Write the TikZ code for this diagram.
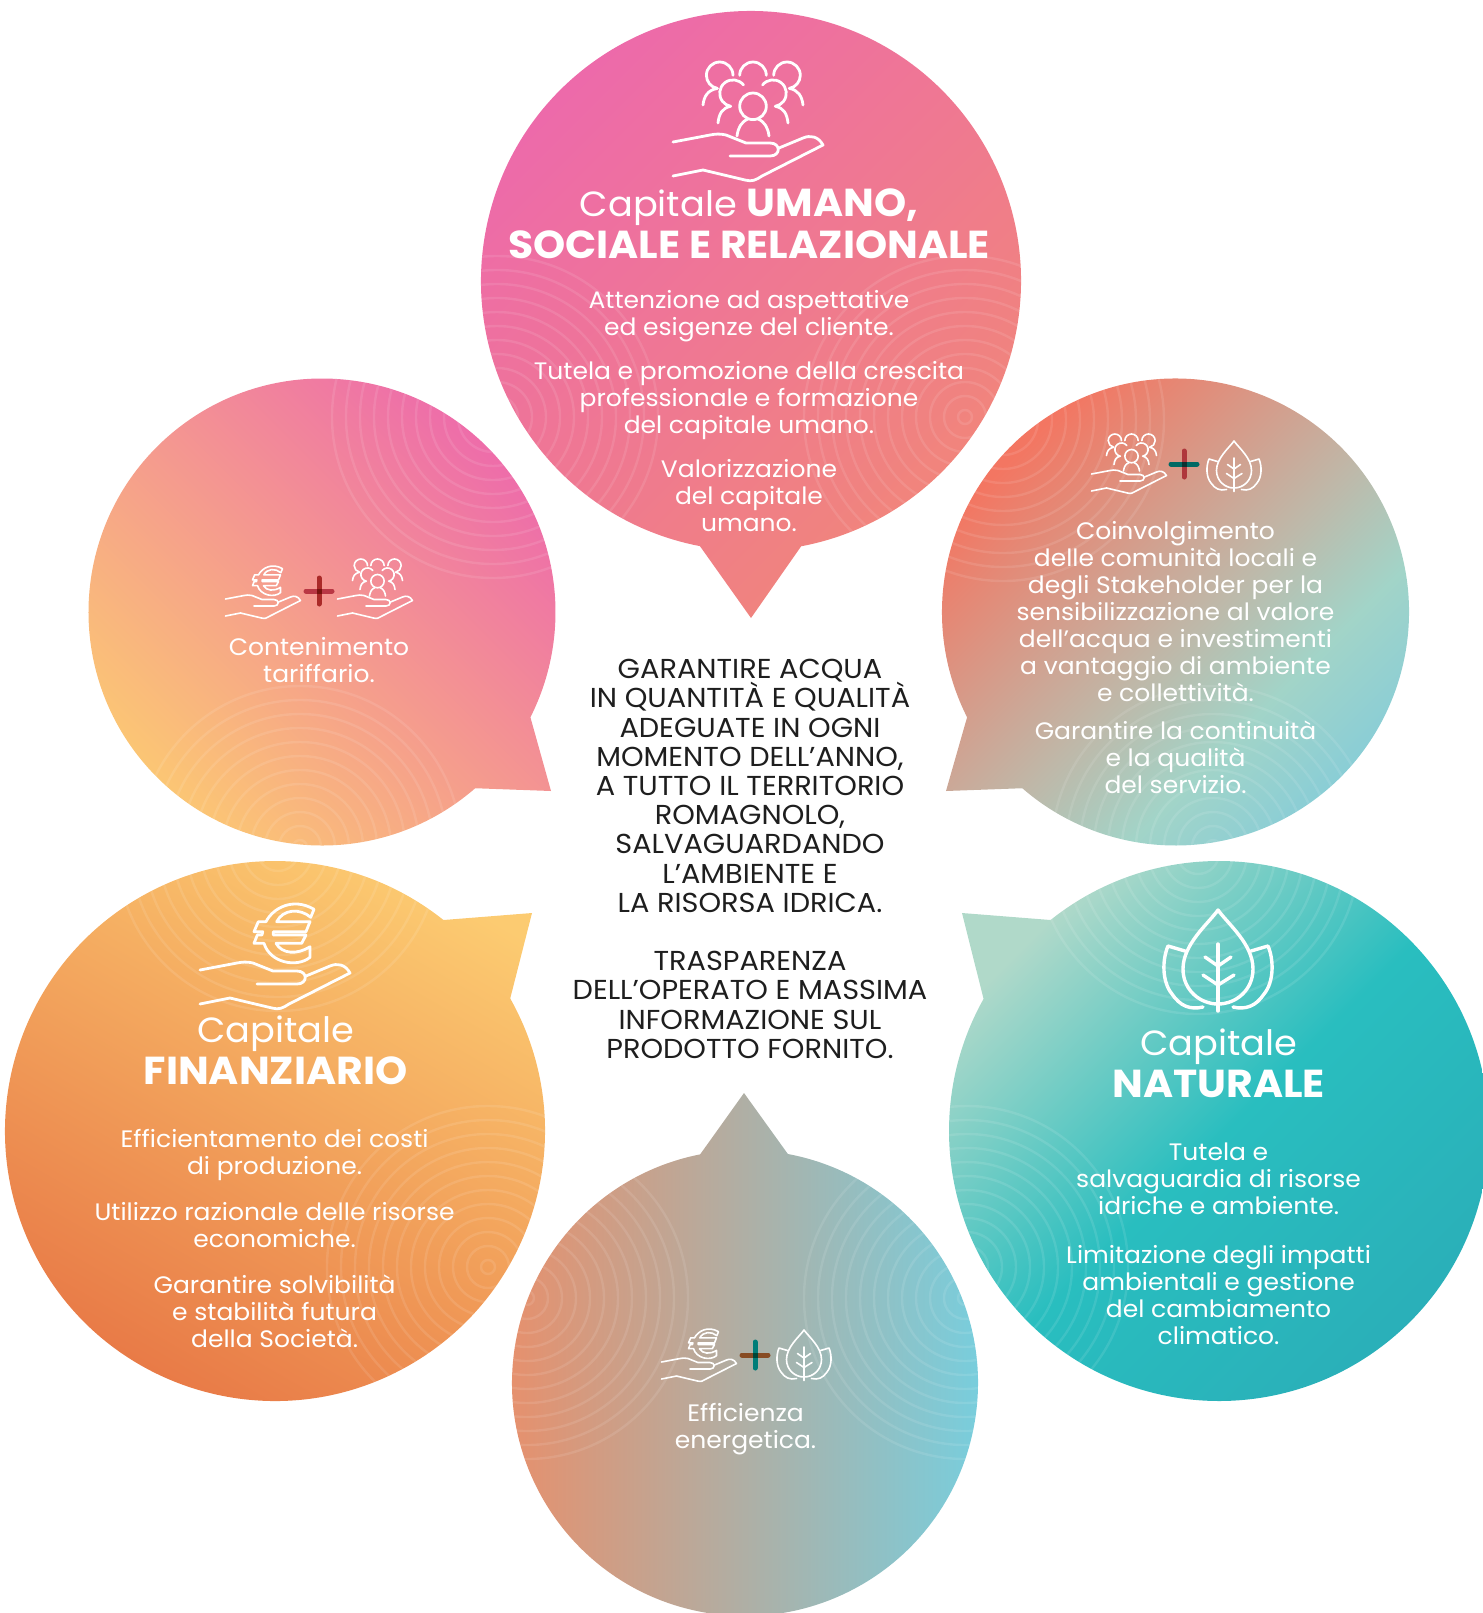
\documentclass[tikz,border=0pt]{standalone}
\usepackage{fontspec}
\setmainfont[FakeStretch=1.05]{Poppins}
\usepackage{xcolor}
\usetikzlibrary{positioning}

\definecolor{rosa}{RGB}{237,105,172}
\definecolor{salmone}{RGB}{241,135,120}
\definecolor{giallo}{RGB}{252,203,113}
\definecolor{arancio}{RGB}{231,117,68}
\definecolor{corallo}{RGB}{234,142,105}
\definecolor{grigio}{RGB}{187,176,160}
\definecolor{azzurro}{RGB}{116,208,225}
\definecolor{testoscuro}{RGB}{30,30,30}

\pgfdeclarehorizontalshading{sociale}{100bp}{rgb(0bp)=(.953,.463,.384); rgb(29bp)=(.953,.463,.384); rgb(53bp)=(.745,.725,.665); rgb(63bp)=(.635,.831,.784); rgb(75bp)=(.52,.80,.85); rgb(100bp)=(.52,.80,.85)}
\pgfdeclarehorizontalshading{naturale}{100bp}{rgb(0bp)=(.69,.85,.79); rgb(27bp)=(.69,.85,.79); rgb(50bp)=(.16,.745,.75); rgb(75bp)=(.165,.68,.72); rgb(100bp)=(.165,.68,.72)}

% fumetto: centro, raggio, angoli dell'arco, punta
\newcommand{\fumetto}[6]{(#1,#2) ++(#4:#3) arc[start angle=#4,end angle=#5,radius=#3] -- (#6) -- cycle}
% cerchi concentrici chiari
\newcommand{\anelli}[2]{\foreach \r in {7,21,...,161} {\draw[white,opacity=.1,line width=1.2pt] (#1,#2) circle (\r);}}
% parole in grassetto dei titoli
\newcommand{\forte}[1]{{\fontsize{19.5}{21}\selectfont\textbf{#1}}}

\tikzset{
  icona/.style={draw=white,line cap=round,line join=round},
  iconagrande/.style={yscale=-1,line width=1.4pt},
  iconapiccola/.style={scale=.5,yscale=-1,line width=.8pt},
  corpo/.style={text=white,align=center,font=\fontsize{11.9}{13.5}\selectfont},
  titolo/.style={text=white,align=center,font=\fontsize{17.5}{21}\selectfont},
  centrale/.style={text=testoscuro,align=center,font=\fontsize{13.7}{14.6}\selectfont},
  pics/mano/.style={code={
    \draw[icona] (-75,-16) -- (-38,-23) .. controls (-33,-24) and (-28,-24.5) .. (-22,-23) -- (-2,-15) -- (22,-15)
      .. controls (33,-15) and (33,-2) .. (22,-2) -- (-18,-2);
    \draw[icona] (31,-10) -- (55,-20) .. controls (62,-23) and (70,-22) .. (75,-13) -- (14,18)
      .. controls (8,22) and (4,24) .. (-3,22) -- (-45,12) -- (-75,18);
  }},
  pics/persone/.style={code={
    \draw[icona] (-15,-82.7) arc[start angle=0,end angle=-260,radius=13.3] .. controls (-40,-68) and (-44,-62) .. (-45,-53);
    \draw[icona] (-8.3,-82.7) arc[start angle=180,end angle=360,radius=13.3];
    \draw[icona] (25.7,-82.7) arc[start angle=180,end angle=440,radius=13.3] .. controls (50,-68) and (54,-62) .. (55,-53);
    \draw[icona] (-4.5,-73) arc[start angle=-38,end angle=-260,radius=13.3] .. controls (-26,-50) and (-29,-44) .. (-30,-35);
    \draw[icona] (14.5,-73) arc[start angle=218,end angle=440,radius=13.3] .. controls (36,-50) and (39,-44) .. (40,-35);
    \draw[icona] (5,-51.7) circle (13.3);
    \draw[icona] (0,-39) .. controls (-7,-36) and (-10,-30) .. (-11,-22);
    \draw[icona] (10,-39) .. controls (17,-36) and (20,-30) .. (21,-22);
  }},
  pics/euro/.style={code={
    \draw[icona] (39,-76.7) .. controls (18,-89) and (-2,-78) .. (-9,-64.3) -- (-16.7,-64.3) -- (-21,-54.3)
      -- (-12.3,-54.3) -- (-13,-51) -- (-17.7,-51) -- (-21,-42.7) -- (-11,-42.7)
      .. controls (-5,-23) and (22,-18) .. (35,-28.7) -- (35,-39.3)
      .. controls (22,-31) and (7,-32) .. (1,-42.7) -- (26.7,-42.7) -- (31,-51) -- (-1.7,-51) -- (-1.7,-54.3)
      -- (31,-54.3) -- (35,-64.3) -- (1.7,-64.3)
      .. controls (8,-77) and (25,-78) .. (35.7,-68.7) -- cycle;
  }},
  pics/foglia/.style={code={
    \draw[icona] (0,-52) .. controls (10,-38) and (35,-18) .. (35,7) .. controls (35,28) and (18,42) .. (0,42)
      .. controls (-18,42) and (-35,28) .. (-35,7) .. controls (-35,-18) and (-10,-38) .. cycle;
    \draw[icona] (0,-18) -- (0,49);
    \draw[icona] (-13,-5) -- (0,4) -- (13,-5);
    \draw[icona] (-15,13) -- (0,23) -- (16,13);
    \draw[icona] (-33,-11) -- (-50,-16) .. controls (-56,-2) and (-56,20) .. (-46,32) .. controls (-38,44) and (-28,48) .. (-15,45);
    \draw[icona] (33,-11) -- (50,-16) .. controls (56,-2) and (56,20) .. (46,32) .. controls (38,44) and (28,48) .. (15,45);
  }},
  pics/piu/.style n args={3}{code={
    \draw[line width=2.5pt,line cap=round,#1] (-13,0) -- (13,0);
    \draw[line width=2.5pt,line cap=round,#2] (0,-13) -- (0,13);
    \fill[#3] (-2.5,-2.5) rectangle (2.5,2.5);
  }}
}

\begin{document}
\begin{tikzpicture}[x=.5pt,y=.5pt,yscale=-1]
    \useasboundingbox (0,0) rectangle (1483,1613);
    \coordinate (puntaumano) at (751,618);
    \coordinate (puntatariffa) at (551,791);
    \coordinate (puntasociale) at (946,791);
    \coordinate (puntafinanza) at (532,913);
    \coordinate (puntanatura) at (962,913);
    \coordinate (puntaenergia) at (744,1093);

    % Capitale umano
    \shade[left color=rosa,right color=salmone,shading angle=45] \fumetto{751}{281}{270}{100.9}{439.3}{puntaumano};
    \begin{scope}
        \clip \fumetto{751}{281}{270}{100.9}{439.3}{puntaumano};
        \anelli{497}{417}
        \anelli{965}{417}
    \end{scope}
    % Contenimento tariffario
    \shade[left color=giallo,middle color=salmone!70!rosa,right color=rosa,shading angle=135] \fumetto{322}{612}{233.5}{49}{386.8}{puntatariffa};
    \begin{scope}
        \clip \fumetto{322}{612}{233.5}{49}{386.8}{puntatariffa};
        \anelli{493}{417}
        \anelli{300}{847}
    \end{scope}
    % Coinvolgimento
    \shade[shading=sociale,shading angle=-45] \fumetto{1175.5}{612}{233.5}{153.2}{491}{puntasociale};
    \begin{scope}
        \clip \fumetto{1175.5}{612}{233.5}{153.2}{491}{puntasociale};
        \anelli{1003}{420}
        \anelli{1213}{847}
    \end{scope}
    % Capitale finanziario
    \shade[left color=arancio,right color=giallo,shading angle=150] \fumetto{275}{1131}{270}{-29.4}{308.6}{puntafinanza};
    \begin{scope}
        \clip \fumetto{275}{1131}{270}{-29.4}{308.6}{puntafinanza};
        \anelli{278}{850}
        \anelli{488}{1267}
    \end{scope}
    % Capitale naturale
    \shade[shading=naturale,shading angle=-45] \fumetto{1219}{1131}{270}{231.4}{569.3}{puntanatura};
    \begin{scope}
        \clip \fumetto{1219}{1131}{270}{231.4}{569.3}{puntanatura};
        \anelli{1198}{853}
        \anelli{967}{1267}
    \end{scope}
    % Efficienza energetica
    \shade[left color=corallo,middle color=grigio,right color=azzurro] \fumetto{745}{1383}{233}{280.6}{618.9}{puntaenergia};
    \begin{scope}
        \clip \fumetto{745}{1383}{233}{280.6}{618.9}{puntaenergia};
        \anelli{527}{1298}
        \anelli{965}{1298}
    \end{scope}

    % Icone
    \pic[iconagrande] at (748,158) {mano};
    \pic[iconagrande] at (748,158) {persone};
    \pic[iconagrande] at (275,986) {mano};
    \pic[iconagrande] at (275,986) {euro};
    \pic[iconagrande,line width=1.7pt] at (1218,962) {foglia};
    \pic[iconapiccola] at (263,607) {mano};
    \pic[iconapiccola] at (263,607) {euro};
    \pic[iconapiccola] at (375,607) {mano};
    \pic[iconapiccola] at (375,607) {persone};
    \pic at (319,591) {piu={draw={rgb,255:red,185;green,55;blue,68}}{draw={rgb,255:red,170;green,42;blue,40}}{fill={rgb,255:red,120;green,20;blue,15}}};
    \pic[iconapiccola] at (1129,482) {mano};
    \pic[iconapiccola] at (1129,482) {persone};
    \pic[iconapiccola] at (1234,467) {foglia};
    \pic at (1184,464) {piu={draw={rgb,255:red,0;green,105;blue,100}}{draw={rgb,255:red,175;green,55;blue,60}}{fill={rgb,255:red,10;green,50;blue,50}}};
    \pic[iconapiccola] at (699,1370) {mano};
    \pic[iconapiccola] at (699,1370) {euro};
    \pic[iconapiccola] at (804,1356) {foglia};
    \pic at (755,1355) {piu={draw={rgb,255:red,135;green,75;blue,35}}{draw={rgb,255:red,0;green,125;blue,120}}{fill={rgb,255:red,0;green,70;blue,55}}};

    % Testi
    \node[titolo] (titoloumano) at (749,224) {Capitale \forte{UMANO,}\\\forte{SOCIALE E RELAZIONALE}};
    \node[corpo] (testoumano) at (749,411) {Attenzione ad aspettative\\ed esigenze del cliente.\\[8.5pt]Tutela e promozione della crescita\\professionale e formazione\\del capitale umano.\\[8.5pt]Valorizzazione\\del capitale\\umano.};
    \node[corpo] (testotariffa) at (319,660) {Contenimento\\tariffario.};
    \node[corpo] (testosociale) at (1175.5,657.5) {Coinvolgimento\\delle comunità locali e\\degli Stakeholder per la\\sensibilizzazione al valore\\dell’acqua e investimenti\\a vantaggio di ambiente\\e collettività.\\[5.5pt]Garantire la continuità\\e la qualità\\del servizio.};
    \node[titolo] (titolofinanza) at (275.6,1050) {Capitale\\\forte{FINANZIARIO}};
    \node[corpo] (testofinanza) at (274.6,1238) {Efficientamento dei costi\\di produzione.\\[9.5pt]Utilizzo razionale delle risorse\\economiche.\\[9.5pt]Garantire solvibilità\\e stabilità futura\\della Società.};
    \node[titolo] (titolonatura) at (1218.6,1063.5) {Capitale\\\forte{NATURALE}};
    \node[corpo] (testonatura) at (1218.6,1243.5) {Tutela e\\salvaguardia di risorse\\idriche e ambiente.\\[11pt]Limitazione degli impatti\\ambientali e gestione\\del cambiamento\\climatico.};
    \node[corpo] (testoenergia) at (745.6,1429) {Efficienza\\energetica.};
    \node[centrale] (testocentrale) at (750,859) {GARANTIRE ACQUA\\IN QUANTITÀ E QUALITÀ\\ADEGUATE IN OGNI\\MOMENTO DELL’ANNO,\\A TUTTO IL TERRITORIO\\ROMAGNOLO,\\SALVAGUARDANDO\\L’AMBIENTE E\\LA RISORSA IDRICA.\\[14.6pt]TRASPARENZA\\DELL’OPERATO E MASSIMA\\INFORMAZIONE SUL\\PRODOTTO FORNITO.};
\end{tikzpicture}
\end{document}
